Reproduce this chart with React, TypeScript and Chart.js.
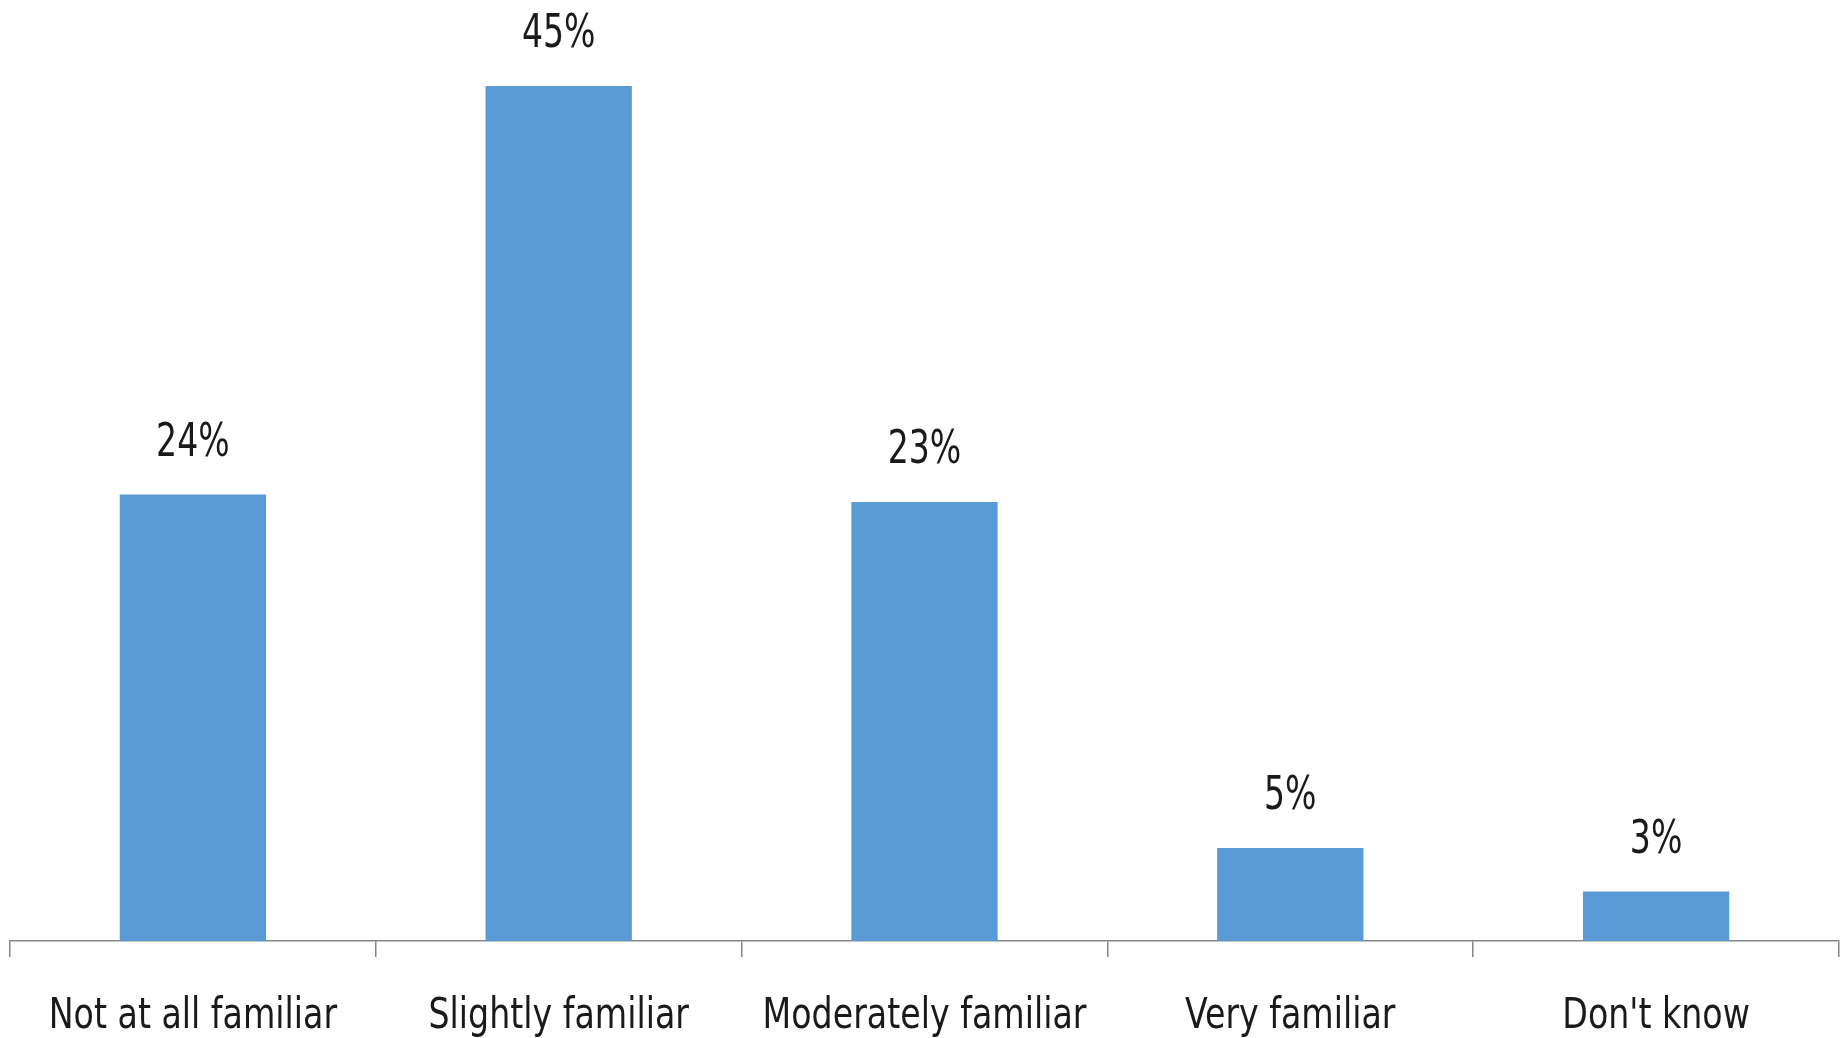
import React, { useEffect, useRef } from "react";
import { Chart, registerables } from "chart.js";

Chart.register(...registerables);

const categories = ["Not at all familiar", "Slightly familiar", "Moderately familiar", "Very familiar", "Don't know"];
const values = [23.5, 45, 23.1, 4.9, 2.6];
const valueLabels = ["24%", "45%", "23%", "5%", "3%"];

const FONT = "'DejaVu Sans Condensed', 'Liberation Sans', sans-serif";
const TEXT_COLOR = "#1a1a1a";

function drawSqueezed(ctx: CanvasRenderingContext2D, text: string, x: number, y: number, size: number, sx: number) {
  ctx.save();
  ctx.translate(x, y);
  ctx.scale(sx, 1);
  ctx.font = `${size}px ${FONT}`;
  ctx.fillStyle = TEXT_COLOR;
  ctx.textAlign = "center";
  ctx.textBaseline = "alphabetic";
  ctx.fillText(text, 0, 0);
  ctx.restore();
}

const labelPlugin = {
  id: "barLabels",
  afterDatasetsDraw(chart: any) {
    const ctx = chart.ctx;
    const meta = chart.getDatasetMeta(0);
    meta.data.forEach((bar: any, i: number) => {
      drawSqueezed(ctx, valueLabels[i], bar.x, bar.y - 39, 46, 0.8);
    });
  },
  afterDraw(chart: any) {
    const ctx = chart.ctx;
    const xScale = chart.scales.x;
    categories.forEach((c, i) => {
      const x = xScale.getPixelForTick(i);
      drawSqueezed(ctx, c, x, xScale.top + 87, 42, 0.88);
    });
  },
};

export default function App() {
  const ref = useRef<HTMLCanvasElement | null>(null);
  useEffect(() => {
    if (!ref.current) return;
    const chart = new Chart(ref.current, {
      type: "bar",
      data: {
        labels: categories,
        datasets: [
          {
            data: values,
            backgroundColor: "#5B9BD5",
            borderWidth: 0,
            categoryPercentage: 0.4,
            barPercentage: 1,
          },
        ],
      },
      options: {
        animation: false,
        responsive: false,
        layout: { padding: { left: 10, right: 4, top: 86, bottom: 81 } },
        plugins: { legend: { display: false }, tooltip: { enabled: false } },
        scales: {
          x: {
            offset: true,
            grid: {
              offset: true,
              display: true,
              drawOnChartArea: false,
              drawTicks: true,
              tickLength: 16,
              color: "#868686",
              lineWidth: 1.5,
            },
            border: { display: true, color: "#868686", width: 1.5 },
            ticks: { display: false },
          },
          y: {
            display: false,
            min: 0,
            max: 45,
          },
        },
      },
      plugins: [labelPlugin],
    });
    return () => chart.destroy();
  }, []);
  return (
    <div style={{ position: "fixed", left: 0, top: 0, width: 1843, height: 1038, background: "#fff" }}>
      <canvas ref={ref} width={1843} height={1038} style={{ display: "block" }} />
    </div>
  );
}
